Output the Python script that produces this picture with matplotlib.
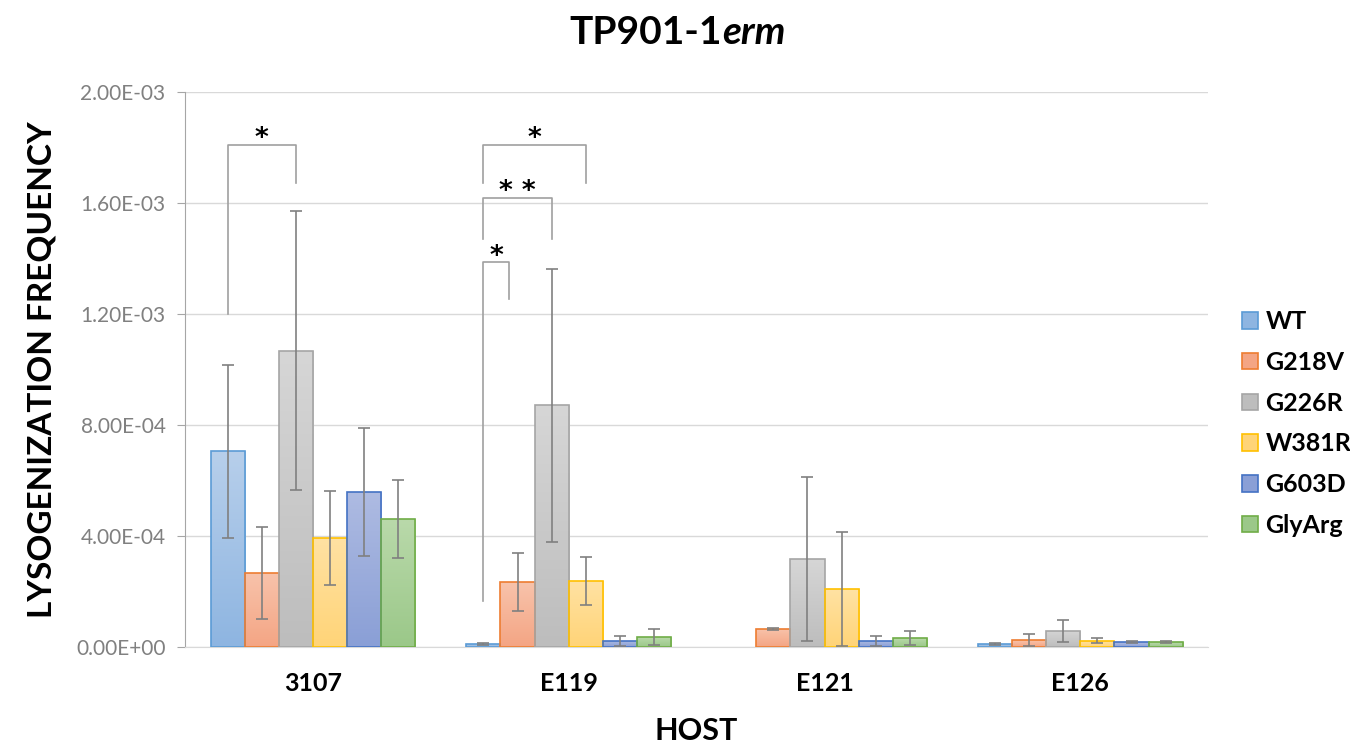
import numpy as np
import matplotlib
matplotlib.use("Agg")
import matplotlib.pyplot as plt
from matplotlib.colors import LinearSegmentedColormap
from matplotlib.patches import Patch

plt.rcParams['font.family'] = ['Lato', 'DejaVu Sans']

hosts = ["3107", "E119", "E121", "E126"]
strains = ["WT", "G218V", "G226R", "W381R", "G603D", "GlyArg"]

# frequencies (x 1e-3)
wt = [0.706, 0.011, 0.0, 0.011]
g218v = [0.267, 0.234, 0.065, 0.025]
g226r = [1.067, 0.872, 0.317, 0.058]
w381r = [0.393, 0.238, 0.209, 0.022]
g603d = [0.559, 0.022, 0.022, 0.018]
glyarg = [0.461, 0.036, 0.032, 0.018]

wt_err = [0.312, 0.003, np.nan, 0.004]
g218v_err = [0.165, 0.103, 0.003, 0.022]
g226r_err = [0.503, 0.492, 0.297, 0.040]
w381r_err = [0.170, 0.085, 0.205, 0.009]
g603d_err = [0.231, 0.017, 0.018, 0.004]
glyarg_err = [0.141, 0.029, 0.026, 0.004]

values = [wt, g218v, g226r, w381r, g603d, glyarg]
errors = [wt_err, g218v_err, g226r_err, w381r_err, g603d_err, glyarg_err]

# gradient top, gradient bottom, outline
colors = [("#B7CFEB", "#8EB5E1", "#5B9BD5"),
          ("#F8C3AB", "#F4A584", "#ED7D31"),
          ("#D6D6D6", "#BDBDBD", "#A5A5A5"),
          ("#FFE2A3", "#FFD478", "#FFC000"),
          ("#AEBBE2", "#8A9FD6", "#4472C4"),
          ("#B9D9AA", "#9BC889", "#70AD47")]

fig = plt.figure(figsize=(13.5, 7.47), dpi=100)
ax = fig.add_axes([0.137, 0.1339, 0.758, 0.7429])

x = np.arange(len(hosts))
w = 0.8 / len(strains)
offsets = [(i - 2.5) * w for i in range(len(strains))]
grad = np.linspace(1, 0, 100).reshape(-1, 1)

for i, (vals, errs) in enumerate(zip(values, errors)):
    top, bottom, edge = colors[i]
    cmap = LinearSegmentedColormap.from_list("g%d" % i, [bottom, top])
    heights = np.array(vals) * 1e-3
    bars = ax.bar(x + offsets[i], heights, w, facecolor="none",
                  edgecolor=edge, linewidth=1.2, zorder=3)
    for b in bars:
        if b.get_height() <= 0:
            b.set_linewidth(0)
            continue
        bx, by = b.get_x(), b.get_y()
        im = ax.imshow(grad, extent=[bx, bx + b.get_width(), by, by + b.get_height()],
                       aspect="auto", cmap=cmap, vmin=0, vmax=1, zorder=2,
                       interpolation="bilinear")
        im.set_clip_path(b)
    ax.errorbar(x + offsets[i], heights, yerr=np.array(errs) * 1e-3, fmt="none",
                ecolor="#808080", elinewidth=1.2, capsize=4, capthick=1.2, zorder=4)

ax.set_xlim(-0.5, 3.5)
ax.set_ylim(0, 2e-3)
yt = np.arange(0, 2.01e-3, 0.4e-3)
ax.set_yticks(yt)
ax.set_yticklabels(["{:.2E}".format(v) for v in yt], color="#808080", fontsize=15)
ax.set_xticks(x)
ax.set_xticklabels(hosts, fontsize=18, fontweight="bold")
ax.tick_params(axis="x", length=0, pad=18)
ax.tick_params(axis="y", length=6, color="#A6A6A6", pad=8)
ax.yaxis.grid(True, color="#D9D9D9", linewidth=1, zorder=0)
ax.set_axisbelow(True)
for s in ["top", "right"]:
    ax.spines[s].set_visible(False)
ax.spines["left"].set_color("#A6A6A6")
ax.spines["bottom"].set_color("#D9D9D9")

ax.set_ylabel("LYSOGENIZATION FREQUENCY", fontsize=24, fontweight="bold", labelpad=14)
ax.set_xlabel("HOST", fontsize=22, fontweight="bold", labelpad=16)

# significance brackets
def bracket(x0, x1, ytop, y0, y1, label):
    ax.plot([x0, x0, x1, x1], [y0, ytop, ytop, y1], color="#A0A0A0",
            linewidth=1.2, zorder=5, clip_on=False)
    ax.text((x0 + x1) / 2, ytop + 0.02e-3, label, ha="center", va="center",
            fontsize=19, fontweight="bold", family="DejaVu Sans", zorder=6)

bracket(0 + offsets[0], 0 + offsets[2], 1.809e-3, 1.200e-3, 1.672e-3, "*")
bracket(1 + offsets[0], 1 + offsets[3], 1.809e-3, 1.672e-3, 1.672e-3, "*")
bracket(1 + offsets[0], 1 + offsets[2], 1.618e-3, 1.470e-3, 1.470e-3, "* *")
bracket(1 + offsets[0], 1 + offsets[1] - 0.035, 1.387e-3, 0.166e-3, 1.254e-3, "*")

handles = [Patch(facecolor=c[1], edgecolor=c[2], linewidth=1.2) for c in colors]
fig.legend(handles, strains, loc="center left", bbox_to_anchor=(0.92, 0.433),
           frameon=False, prop={"weight": "bold", "size": 18}, borderpad=0,
           borderaxespad=0, handlelength=0.64, handleheight=0.64,
           handletextpad=0.3, labelspacing=0.71)

t1 = fig.text(0.535, 0.941, "TP901-1", ha="right", va="baseline",
              fontsize=28, fontweight="bold")
ax.annotate("erm", xy=(1, 0), xycoords=t1, ha="left", va="bottom",
            fontsize=28, fontweight="bold", style="italic")

fig.savefig("out.png", dpi=100)
